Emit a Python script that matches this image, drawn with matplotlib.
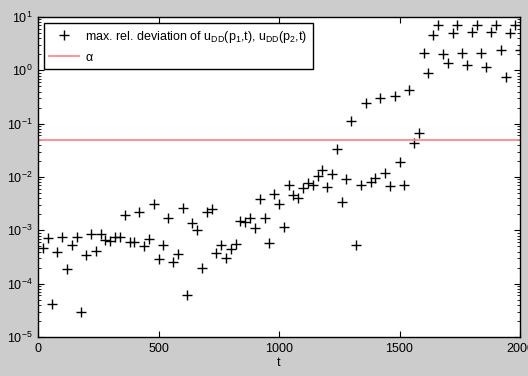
import numpy as np
import matplotlib
matplotlib.use("Agg")
import matplotlib.pyplot as plt
from matplotlib.ticker import LogLocator, NullFormatter

plt.rcParams['font.family'] = ['Liberation Sans', 'DejaVu Sans']
plt.rcParams['mathtext.fontset'] = 'custom'
plt.rcParams['mathtext.rm'] = 'Liberation Sans'
plt.rcParams['mathtext.it'] = 'Liberation Sans'

t = np.arange(20, 2001, 20)
deviation = [
    4.6e-4, 7.3e-4, 4.2e-5, 4.0e-4, 7.5e-4, 1.9e-4, 5.2e-4, 7.5e-4, 2.95e-5, 3.5e-4,
    8.4e-4, 4.15e-4, 8.6e-4, 6.5e-4, 6.2e-4, 7.4e-4, 7.4e-4, 1.9e-3, 6.1e-4, 6.0e-4,
    2.2e-3, 5.0e-4, 6.9e-4, 3.1e-3, 2.9e-4, 5.2e-4, 1.7e-3, 2.55e-4, 3.55e-4, 2.66e-3,
    6.0e-5, 1.35e-3, 1.03e-3, 1.94e-4, 2.2e-3, 2.5e-3, 3.8e-4, 5.4e-4, 3.07e-4, 4.5e-4,
    5.5e-4, 1.47e-3, 1.46e-3, 1.7e-3, 1.1e-3, 3.9e-3, 1.7e-3, 5.9e-4, 4.8e-3, 3.1e-3,
    1.14e-3, 7.0e-3, 4.6e-3, 4.0e-3, 6.2e-3, 7.6e-3, 7.0e-3, 1.06e-2, 1.35e-2, 6.4e-3,
    1.14e-2, 3.4e-2, 3.44e-3, 9.2e-3, 0.111, 5.3e-4, 7.1e-3, 0.24, 8.05e-3, 9.7e-3,
    0.30, 1.2e-2, 6.8e-3, 0.335, 1.94e-2, 7.1e-3, 0.43, 4.3e-2, 6.8e-2, 2.08,
    0.88, 4.6, 7.0, 2.0, 1.35, 5.1, 7.0, 2.08, 1.28, 5.2,
    7.0, 2.15, 1.14, 5.2, 7.0, 2.44, 0.74, 5.1, 7.0, 2.45,
]
alpha_level = 0.05
xticks = [0, 500, 1000, 1500, 2000]
dev_label = r'max. rel. deviation of u$_{\mathrm{DD}}$(p$_{1}$,t), u$_{\mathrm{DD}}$(p$_{2}$,t)'
alpha_label = 'α'

fig = plt.figure(figsize=(5.28, 3.76), dpi=100, facecolor='#cccccc')
ax = fig.add_axes([38/528, 1 - 337/376, 482/528, 320/376])
ax.set_facecolor('white')

ax.plot(t, deviation, '+', color='black', markersize=7, markeredgewidth=1.0, label=dev_label)
ax.axhline(alpha_level, color='#ff7f7f', linewidth=1.2, label=alpha_label)

ax.set_yscale('log')
ax.set_xlim(0, 2000)
ax.set_ylim(1e-5, 1e1)
ax.set_xticks(xticks)
ax.set_xticklabels([str(v) for v in xticks])
ax.yaxis.set_major_locator(LogLocator(base=10, numticks=10))
ax.yaxis.set_minor_locator(LogLocator(base=10, subs=np.arange(2, 10), numticks=20))
ax.yaxis.set_minor_formatter(NullFormatter())
ax.tick_params(which='both', direction='in', top=True, right=True, labelsize=9, pad=4)
ax.tick_params(which='major', length=4, width=0.8)
ax.tick_params(which='minor', length=2, width=0.6)
for s in ax.spines.values():
    s.set_linewidth(1.0)
ax.set_xlabel('t', fontsize=9, labelpad=2)

leg = ax.legend(loc='upper left', bbox_to_anchor=(0.012, 0.981), borderaxespad=0,
                fancybox=False, framealpha=1, edgecolor='black', fontsize=9,
                handlelength=2.4, handletextpad=0.45, borderpad=0.45, labelspacing=0.55)
leg.get_frame().set_linewidth(1.0)

fig.savefig('out.png', dpi=100, facecolor=fig.get_facecolor())
